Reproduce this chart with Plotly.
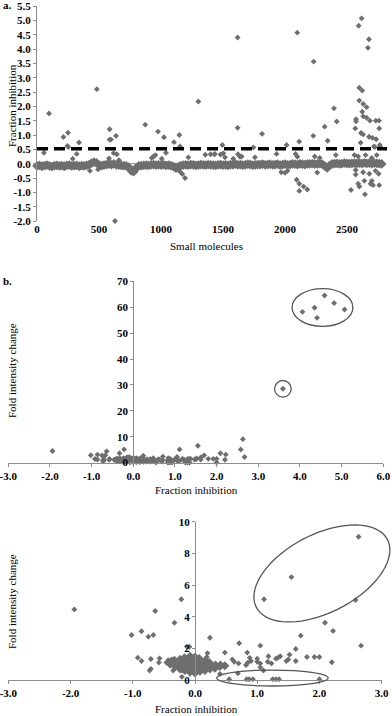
import numpy as np
import plotly.graph_objects as go

# ---- panel a: fraction inhibition per small molecule ----
band_step = 20
band_y = [
    -0.08, -0.06, -0.09, -0.07, -0.05, -0.08, -0.10, -0.07, -0.06, -0.08,
    -0.07, -0.09, -0.06, -0.05, -0.08, -0.07, -0.06, -0.09, -0.07, -0.08,
    -0.06, -0.03, 0.02, 0.05, 0.03, -0.04, -0.07, -0.05, -0.03, -0.02,
    -0.03, -0.01, -0.04, -0.05, -0.06, -0.07, -0.08, -0.12, -0.25, -0.28,
    -0.15, -0.08, -0.07, -0.06, -0.05, -0.06, -0.04, -0.03, -0.05, -0.04,
    -0.05, -0.04, -0.06, -0.05, -0.07, -0.10, -0.13, -0.11, -0.07, -0.05,
    -0.04, -0.05, -0.03, -0.04, -0.06, -0.05, -0.03, -0.04, -0.05, -0.03,
    -0.04, -0.05, -0.06, -0.04, -0.03, -0.05, -0.04, -0.06, -0.03, -0.04,
    -0.02, -0.04, -0.03, -0.05, -0.04, -0.02, -0.03, -0.05, -0.04, -0.03,
    -0.03, -0.02, -0.04, -0.03, -0.02, -0.04, -0.03, -0.02, -0.05, -0.03,
    -0.02, -0.04, -0.03, -0.01, -0.02, -0.03, -0.01, -0.02, -0.03, -0.01,
    -0.01, 0.00, -0.02, -0.01, 0.00, -0.02, -0.08, -0.15, -0.06, -0.01,
    0.00, 0.01, -0.01, 0.00, 0.02, 0.01, 0.00, 0.01, 0.02, 0.01,
    0.02, 0.00, 0.03, 0.01, 0.02, 0.00, 0.02, 0.01, 0.00, -0.01,
]
band_x = [i * band_step for i in range(len(band_y))]

mol_x = [
    97, 56, 213, 250, 245, 252, 339, 288, 320, 483, 427, 492, 586, 585, 597, 637,
    618, 644, 581, 661, 629, 873, 976, 1024, 1148, 1105, 1153, 1040, 1220, 940,
    955, 925, 1006, 1301, 1357, 1435, 1495, 1503, 1516, 1583, 1621, 1637, 1618,
    1618, 1745, 1758, 1815, 1121, 1153, 1172, 1194,
    2013, 2099, 2231, 2395, 2417, 2320, 2228, 2115, 2344, 2594, 2618, 2677, 2669,
    2599, 2623, 2599, 2631, 2658, 2623, 2573, 2573, 2631, 2658, 2685, 2732, 2758,
    2567, 2760, 2613, 2630, 2677, 2705, 2735, 2610, 2717, 2725, 2765, 2768,
    1970, 2000, 2020, 2094, 2115, 2115, 2150, 2180, 2260, 2532, 2570, 2570, 2590,
    2600, 2645, 2630, 2640, 2680, 2690, 2700, 2710, 2730, 2755, 2760,
    1400, 1430, 1480, 1650, 1932, 2085, 2100, 2240, 2280, 2410, 2560, 2590, 2650,
    2700, 2740,
]
mol_y = [
    1.75, 0.38, 0.93, 1.08, 0.62, 0.58, 0.74, 0.17, 0.34, 2.60, -0.25, -0.20, 1.20,
    0.84, 0.84, 0.97, 0.37, 0.33, 0.18, 0.12, -2.00, 1.36, 1.12, 0.92, 1.00, 0.75,
    0.60, 0.38, 0.22, 0.25, 0.30, 0.20, 0.17, 2.17, 0.31, 0.34, 0.65, 0.36, 0.22,
    0.17, 0.33, 0.24, 1.25, 4.40, 0.57, 0.22, 1.04, -0.22, -0.28, -0.36, -0.50,
    0.65, 4.57, 3.56, 1.93, 1.47, 1.29, 0.97, 0.77, 0.80, 4.81, 5.07, 4.34, 4.04,
    2.65, 2.55, 2.20, 2.08, 1.97, 1.81, 1.55, 1.48, 1.65, 1.60, 1.50, 1.50, 1.50,
    1.23, 1.23, 1.07, 1.02, 0.94, 0.90, 0.85, 0.73, 0.60, 0.58, 0.65, 0.58,
    -0.30, -0.32, -0.25, -0.56, -0.70, -0.95, -0.80, -0.90, -0.31, -0.92, -0.22,
    -0.38, -0.70, -0.80, -1.07, -0.30, -0.60, -0.35, -0.70, -0.60, -0.75, -0.25,
    -0.35, -0.75,
    0.33, 0.33, 0.32, 0.25, 0.34, 0.34, 0.24, 0.25, 0.20, 0.30, 0.30, 0.25, 0.30,
    0.20, 0.30,
]
cutoff = 0.52
a_yticks = [-2.0, -1.5, -1.0, -0.5, 0.0, 0.5, 1.0, 1.5, 2.0, 2.5, 3.0, 3.5, 4.0, 4.5, 5.0, 5.5]
a_xticks = [0, 500, 1000, 1500, 2000, 2500]

# ---- panels b/c: fold intensity change vs fraction inhibition ----
fi_x = [
    -1.94, -1.02, -0.86, -0.75, -0.67, -0.64, -0.33, -0.22, -0.13, -0.09, -0.92,
    -0.86, -0.71, -0.57, -0.58, -0.71, -0.73, -0.46, -0.43, -0.37, -0.35, -0.22,
    -0.19, -0.21,
    0.24, 0.71, 1.05, 1.70, 2.09, 2.22, 2.67, 1.62, 1.52, 1.50, 1.47, 1.62, 1.80,
    1.92, 2.00, 2.20, 0.48, 0.84, 0.88, 0.90, 0.85, 0.82, 0.20, 0.19, 0.17, 0.60,
    0.63, 0.70, 1.00, 1.00, 1.05, 1.18, 1.17, 1.23, 1.30, 1.33, 1.37, 1.05, 1.10,
    0.69, 0.55, 0.83, 0.87, 0.93, 1.25, 1.30, 1.35, 2.00, 0.40, 1.11, 1.55, 2.58,
    2.63,
    4.59, 4.82, 5.07, 4.35, 4.06, 4.41, 3.59,
]
fold_y = [
    4.46, 2.84, 3.08, 2.74, 2.84, 4.36, 3.62, 5.10, 2.10, 2.10, 1.41,
    1.20, 1.33, 1.37, 1.10, 0.70, 0.60, 1.10, 1.25, 1.30, 0.60, 0.63,
    0.60, 0.20,
    2.67, 2.32, 2.17, 2.80, 3.62, 3.10, 2.17, 1.96, 1.60, 1.30, 1.20, 1.20, 1.45,
    1.45, 1.45, 1.12, 1.73, 1.73, 1.40, 1.20, 1.10, 0.95, 1.70, 1.45, 1.10, 1.30,
    1.15, 1.05, 1.35, 1.15, 1.05, 1.50, 1.15, 1.05, 1.35, 1.40, 1.50, 0.80, 0.60,
    0.42, 0.05, 0.05, 0.05, 0.05, 0.05, 0.05, 0.05, 0.05, 0.38, 5.10, 6.50, 5.05,
    9.05,
    64.5, 61.6, 59.1, 59.8, 58.2, 55.9, 28.5,
]
# dense cluster of inactive compounds around the origin
blob_x = [
    -0.40, -0.39, -0.32, -0.31, -0.33, -0.24, -0.25, -0.23, -0.24, -0.16, -0.17,
    -0.15, -0.16, -0.17, -0.08, -0.09, -0.07, -0.08, -0.09, -0.08, 0.00, 0.01,
    -0.01, 0.00, 0.01, 0.00, 0.08, 0.07, 0.09, 0.08, 0.07, 0.16, 0.17, 0.15,
    0.16, 0.24, 0.25, 0.23, 0.32, 0.33, 0.40, 0.41, 0.48,
]
blob_y = [
    1.00, 1.15, 0.85, 1.05, 1.25, 0.70, 0.90, 1.10, 1.30, 0.60, 0.80,
    1.00, 1.20, 1.40, 0.50, 0.70, 0.90, 1.10, 1.30, 1.50, 0.45, 0.65,
    0.85, 1.05, 1.25, 1.45, 0.55, 0.75, 0.95, 1.15, 1.35, 0.60, 0.80, 1.00,
    1.20, 0.70, 0.90, 1.10, 0.75, 0.95, 0.85, 0.95, 0.90,
]
b_xticks = [-3.0, -2.0, -1.0, 0.0, 1.0, 2.0, 3.0, 4.0, 5.0, 6.0]
b_yticks = [0, 10, 20, 30, 40, 50, 60, 70]
c_xticks = [-3.0, -2.0, -1.0, 0.0, 1.0, 2.0, 3.0]
c_yticks = [0, 2, 4, 6, 8, 10]

W, H = 392, 716
FONT = "Liberation Serif, Times New Roman, serif"
PT = "#6e6e6e"
AX = "#8c8c8c"
ELL = "#555555"

# plot areas in pixels: (left, right), (top, bottom) and data ranges
A = dict(px=(37, 390.4), py=(6, 221), xr=(0, 2850), yr=(-2.0, 5.5))
B = dict(px=(8.3, 383.3), py=(281.3, 462.6), xr=(-3, 6), yr=(0, 70))
C = dict(px=(8.4, 381.6), py=(521.7, 680), xr=(-3, 3), yr=(0, 10))


def xdom(p):
    return [p["px"][0] / W, p["px"][1] / W]


def ydom(p):
    return [1 - p["py"][1] / H, 1 - p["py"][0] / H]


def to_paper(p, x, y):
    fx = (x - p["xr"][0]) / (p["xr"][1] - p["xr"][0])
    fy = (y - p["yr"][0]) / (p["yr"][1] - p["yr"][0])
    d, e = xdom(p), ydom(p)
    return d[0] + fx * (d[1] - d[0]), e[0] + fy * (e[1] - e[0])


def ellipse_path(p, cx, cy, a_px, b_px, deg, n=80):
    # ellipse drawn in pixel space, rotated, mapped back to paper
    th = np.radians(deg)
    pcx, pcy = to_paper(p, cx, cy)
    t = np.linspace(0, 2 * np.pi, n)
    dx = a_px * np.cos(t) * np.cos(th) - b_px * np.sin(t) * np.sin(th)
    dy = a_px * np.cos(t) * np.sin(th) + b_px * np.sin(t) * np.cos(th)
    xs = pcx + dx / W
    ys = pcy + dy / H
    pts = [f"{x:.5f},{y:.5f}" for x, y in zip(xs, ys)]
    return "M " + " L ".join(pts) + " Z"


def box_ellipse(p, x0, x1, y0, y1):
    a0, b0 = to_paper(p, x0, y0)
    a1, b1 = to_paper(p, x1, y1)
    return dict(type="circle", xref="paper", yref="paper", x0=a0, x1=a1, y0=b0, y1=b1,
                line=dict(color=ELL, width=1.3))


fig = go.Figure()
mk = dict(symbol="diamond", size=4.5, color=PT)
big = dict(symbol="diamond", size=7.5, color=PT)

# panel a
fig.add_trace(go.Scatter(x=band_x, y=band_y, mode="markers", marker=big,
                         xaxis="x", yaxis="y", cliponaxis=False))
fig.add_trace(go.Scatter(x=mol_x, y=mol_y, mode="markers", marker=mk,
                         xaxis="x", yaxis="y", cliponaxis=False))

# panel b (all compounds)
fig.add_trace(go.Scatter(x=blob_x, y=blob_y, mode="markers", marker=dict(symbol="diamond", size=6, color=PT),
                         xaxis="x2", yaxis="y2", cliponaxis=False))
fig.add_trace(go.Scatter(x=fi_x, y=fold_y, mode="markers", marker=mk,
                         xaxis="x2", yaxis="y2", cliponaxis=False))

# panel c (zoom: -3..3, 0..10)
cx_, cy_ = zip(*[(x, y) for x, y in zip(fi_x, fold_y) if -3 <= x <= 3 and 0 <= y <= 10])
fig.add_trace(go.Scatter(x=blob_x, y=blob_y, mode="markers", marker=dict(symbol="diamond", size=7, color=PT),
                         xaxis="x3", yaxis="y3", cliponaxis=False))
fig.add_trace(go.Scatter(x=list(cx_), y=list(cy_), mode="markers", marker=mk,
                         xaxis="x3", yaxis="y3", cliponaxis=False))

tf = dict(family=FONT, size=11, color="black", weight="bold")
common = dict(showgrid=False, zeroline=False, tickfont=tf, tickcolor=AX,
              ticklen=3, linewidth=1, automargin=False, ticklabeloverflow="allow")

fig.update_layout(
    width=W, height=H, margin=dict(l=0, r=0, t=0, b=0),
    paper_bgcolor="white", plot_bgcolor="rgba(0,0,0,0)", showlegend=False,
    xaxis=dict(domain=xdom(A), range=list(A["xr"]), anchor="y", showline=False, ticks="",
               tickvals=a_xticks, ticktext=[str(v) for v in a_xticks], **common),
    yaxis=dict(domain=ydom(A), range=list(A["yr"]), anchor="x", showline=True, linecolor=AX,
               ticks="outside", tickvals=a_yticks, ticktext=[f"{v:.1f}" for v in a_yticks], **common),
    xaxis2=dict(domain=xdom(B), range=list(B["xr"]), anchor="y2", showline=True, linecolor=AX,
                ticks="outside", tickvals=b_xticks, ticktext=[f"{v:.1f}" for v in b_xticks], **common),
    yaxis2=dict(domain=ydom(B), range=list(B["yr"]), anchor="free",
                position=to_paper(B, 0, 0)[0], showline=True, linecolor=AX, ticks="outside",
                tickvals=b_yticks, ticktext=[str(v) for v in b_yticks], **common),
    xaxis3=dict(domain=xdom(C), range=list(C["xr"]), anchor="y3", showline=True, linecolor=AX,
                ticks="outside", tickvals=c_xticks, ticktext=[f"{v:.1f}" for v in c_xticks], **common),
    yaxis3=dict(domain=ydom(C), range=list(C["yr"]), anchor="free",
                position=to_paper(C, 0, 0)[0], showline=True, linecolor=AX, ticks="outside",
                tickvals=c_yticks, ticktext=[str(v) for v in c_yticks], **common),
)

shapes = [
    # panel a axis line at zero and activity cut-off
    dict(type="line", xref="x", yref="y", x0=0, x1=2790, y0=0, y1=0,
         line=dict(color=AX, width=1), layer="below"),
    dict(type="line", xref="x", yref="y", x0=0, x1=2823, y0=cutoff, y1=cutoff,
         line=dict(color="black", width=3.5, dash="11px,6px")),
    # panel b highlights
    box_ellipse(B, 3.81, 5.27, 52.6, 67.2),
    box_ellipse(B, 3.39, 3.79, 25.3, 31.7),
    # panel c highlights
    dict(type="path", xref="paper", yref="paper", path=ellipse_path(C, 2.04, 6.73, 73.8, 39.1, 27.3),
         line=dict(color=ELL, width=1.3)),
    box_ellipse(C, 0.35, 2.14, -0.38, 0.63),
]
fig.update_layout(shapes=shapes)

lab = dict(family=FONT, size=11, color="black")


def note(text, px, py, angle=0, bold=False):
    f = dict(lab, weight="bold") if bold else lab
    fig.add_annotation(text=text, x=px / W, y=1 - py / H, xref="paper", yref="paper",
                       showarrow=False, textangle=angle, font=f, xanchor="center", yanchor="middle")


note("a.", 8, 5, bold=True)
note("Fraction inhibition", 12, 106, angle=-90)
note("Small molecules", 206, 246)
note("b.", 8, 281, bold=True)
note("Fold intensity change", 12, 371, angle=-90)
note("Fraction inhibition", 196, 490)
note("Fold intensity change", 12, 602, angle=-90)
note("Fraction inhibition", 196, 709)

# drop the browser's default body margin so the figure sits at the page origin
fig.write_html("out.html", config={"displayModeBar": False},
               post_script="document.body.style.margin='0';")
